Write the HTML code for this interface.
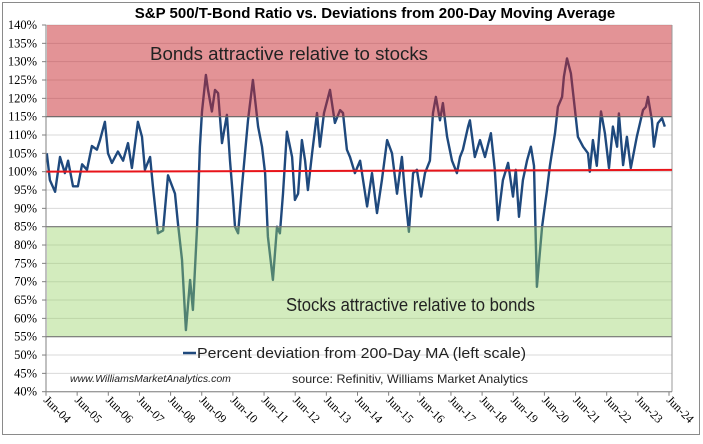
<!DOCTYPE html>
<html><head><meta charset="utf-8"><style>
body{margin:0;background:#fff;}
svg text{font-family:"Liberation Sans",sans-serif;}
</style></head><body>
<svg id="c" width="703" height="439" viewBox="0 0 703 439">
<rect x="2.5" y="2.5" width="697" height="432" fill="#fff" stroke="#8a8a8a"/>
<text x="375" y="18" text-anchor="middle" font-weight="bold" font-size="15">S&amp;P 500/T-Bond Ratio vs. Deviations from 200-Day Moving Average</text>
<g id="grid"></g>
<g id="series"></g>
<g id="bands"></g>
<g id="axes"></g>
<text x="150" y="60" font-size="18" textLength="278" lengthAdjust="spacingAndGlyphs" fill="#222">Bonds attractive relative to stocks</text>
<text x="286" y="311" font-size="18" textLength="249" lengthAdjust="spacingAndGlyphs" fill="#222">Stocks attractive relative to bonds</text>
<g>
<line x1="183" y1="353" x2="196" y2="353" stroke="#1f497d" stroke-width="2.5"/>
<text x="197" y="358" font-size="15" textLength="329" lengthAdjust="spacingAndGlyphs" fill="#222">Percent deviation from 200-Day MA (left scale)</text>
</g>
<text x="70" y="382" font-size="10.5" font-style="italic" fill="#222">www.WilliamsMarketAnalytics.com</text>
<text x="292" y="383" font-size="12" textLength="236" lengthAdjust="spacingAndGlyphs" fill="#222">source: Refinitiv, Williams Market Analytics</text>
</svg>
<script>
const months=[0.3,1.5,3.5,5.4,7.3,8.5,10.4,12.3,13.9,15.8,17.7,19.6,20.8,22.7,23.9,25.4,27.7,29.7,31.6,33.1,35.4,37.0,38.1,40.1,41.2,43.1,45.1,47.0,49.7,50.8,52.4,53.9,55.5,56.6,58.2,59.3,60.1,61.6,62.4,63.9,65.1,66.3,67.8,69.7,70.9,72.0,72.8,74.0,75.5,77.8,79.7,81.7,83.2,84.4,85.5,87.4,89.0,90.1,91.3,92.8,94.8,95.9,97.1,98.6,99.8,100.9,102.5,104.4,105.5,107.1,109.4,111.3,113.3,114.4,115.9,117.1,119.0,121.0,123.7,125.6,127.5,129.4,131.4,133.3,135.2,137.1,138.3,139.8,141.4,142.9,144.5,146.0,147.9,149.1,150.2,151.8,152.9,154.5,156.4,158.3,159.5,160.6,162.6,163.3,165.2,167.2,169.1,171.4,172.9,174.1,176.0,178.0,179.9,181.0,182.2,183.7,185.3,186.8,188.0,189.1,191.1,193.0,194.1,196.1,197.2,198.8,199.5,200.7,202.2,203.8,204.9,206.9,208.8,209.5,210.7,212.2,213.8,215.3,216.9,218.4,220.0,220.7,222.3,223.8,225.3,227.6,230.0,231.1,231.9,233.4,234.2,235.7,237.3,238.4];
const values=[105,97.7,94.5,104,99.6,103,96,96,102,100.5,107,106,108.6,113.6,105,102.4,105.5,103,107.8,101,113.6,109.5,100.5,104,96,83.2,84,99,94,86,76,56.8,70.5,62.3,85,106.8,116.4,126.4,122.3,116.4,122.3,121.4,107.8,115.5,103,93.2,85,83.2,96,114,125,112.3,106.8,99.6,82.3,70.5,85,83.2,94,110.9,104,92.3,94,108.6,103,95,105,116,106.8,116,122.3,113.3,116.8,116,106,104,99.6,103,90.5,99.6,88.7,97.7,108.6,105,94,104,94,83.6,99.6,100.5,93.2,99.6,103,116,120.4,114,118.7,109.5,103,99.6,104,106,112.3,114,104,108.6,104,110.5,100.5,86.8,97.7,102.4,93.2,100.5,87.7,97.7,103,106.8,101.6,68.6,85,95,101.6,110.5,117.7,120.4,125.9,130.9,126.8,116.8,109.5,106.8,105,100,108.6,101.6,116.4,110.5,101,112.3,106.8,115.9,101.8,109.5,101,109.5,116.8,117.7,120.4,114,106.8,113.2,114.6,112.3];
const yTicks=[40,45,50,55,60,65,70,75,80,85,90,95,100,105,110,115,120,125,130,135,140];
const xLabels=["Jun-04","Jun-05","Jun-06","Jun-07","Jun-08","Jun-09","Jun-10","Jun-11","Jun-12","Jun-13","Jun-14","Jun-15","Jun-16","Jun-17","Jun-18","Jun-19","Jun-20","Jun-21","Jun-22","Jun-23","Jun-24"];
const redBand=[115,140], greenBand=[55,85];
const L=46,R=672,T=25,B=391.7;
const y=v=>T+(140-v)*(B-T)/100;
const x=m=>L+m*(668-45)/240;
const NS="http://www.w3.org/2000/svg";
function mk(tag,attrs,parent){const e=document.createElementNS(NS,tag);for(const k in attrs)e.setAttribute(k,attrs[k]);document.getElementById(parent).appendChild(e);return e;}
yTicks.forEach(v=>{
 const g=mk('line',{x1:L,x2:R,y1:y(v),y2:y(v),stroke:'#d9d9d9','stroke-width':1},'grid');
 
 
 const t=mk('text',{x:37,y:y(v)+4,'text-anchor':'end','font-size':12.5,style:'font-family:"Liberation Serif",serif'},'axes');
 t.textContent=v+'%';
 
 
 mk('line',{x1:L-4,x2:L,y1:y(v),y2:y(v),stroke:'#808080'},'axes');
});
let d=months.map((m,i)=>(i?'L':'M')+x(m).toFixed(1)+' '+y(values[i]).toFixed(1)).join(' ');
const p=mk('path',{d:d,fill:'none',stroke:'#1f497d','stroke-width':2.4,'stroke-linejoin':'round'},'series');


const rb=mk('rect',{x:L+1,y:y(redBand[1]),width:R-L-1,height:y(redBand[0])-y(redBand[1]),fill:'rgba(200,40,45,0.5)'},'bands');


mk('line',{x1:L,x2:R,y1:y(redBand[0]),y2:y(redBand[0]),stroke:'#666','stroke-width':1.2},'bands');
const gb=mk('rect',{x:L+1,y:y(greenBand[1]),width:R-L-1,height:y(greenBand[0])-y(greenBand[1]),fill:'rgba(150,210,100,0.42)'},'bands');


[greenBand[0],greenBand[1]].forEach(v=>mk('line',{x1:L,x2:R,y1:y(v),y2:y(v),stroke:'#777','stroke-width':1.2},'bands'));
mk('line',{x1:R,x2:R,y1:y(redBand[1]),y2:B,stroke:'#999'},'bands');
const rl=mk('line',{x1:L,x2:R,y1:y(100),y2:y(100.5),stroke:'#e8141a','stroke-width':2},'bands');


mk('line',{x1:L,x2:L,y1:T,y2:B,stroke:'#808080'},'axes');
mk('line',{x1:L,x2:R,y1:B,y2:B,stroke:'#808080'},'axes');
xLabels.forEach((s,i)=>{
 const xx=x(i*12);
 mk('line',{x1:xx,x2:xx,y1:B,y2:B+4,stroke:'#808080'},'axes');
 const t=mk('text',{x:0,y:0,'font-size':12,transform:`translate(${xx-3},${B+9}) rotate(45)`,style:'font-family:"Liberation Serif",serif'},'axes');
 t.textContent=s;
 
 
});
</script>
</body></html>
